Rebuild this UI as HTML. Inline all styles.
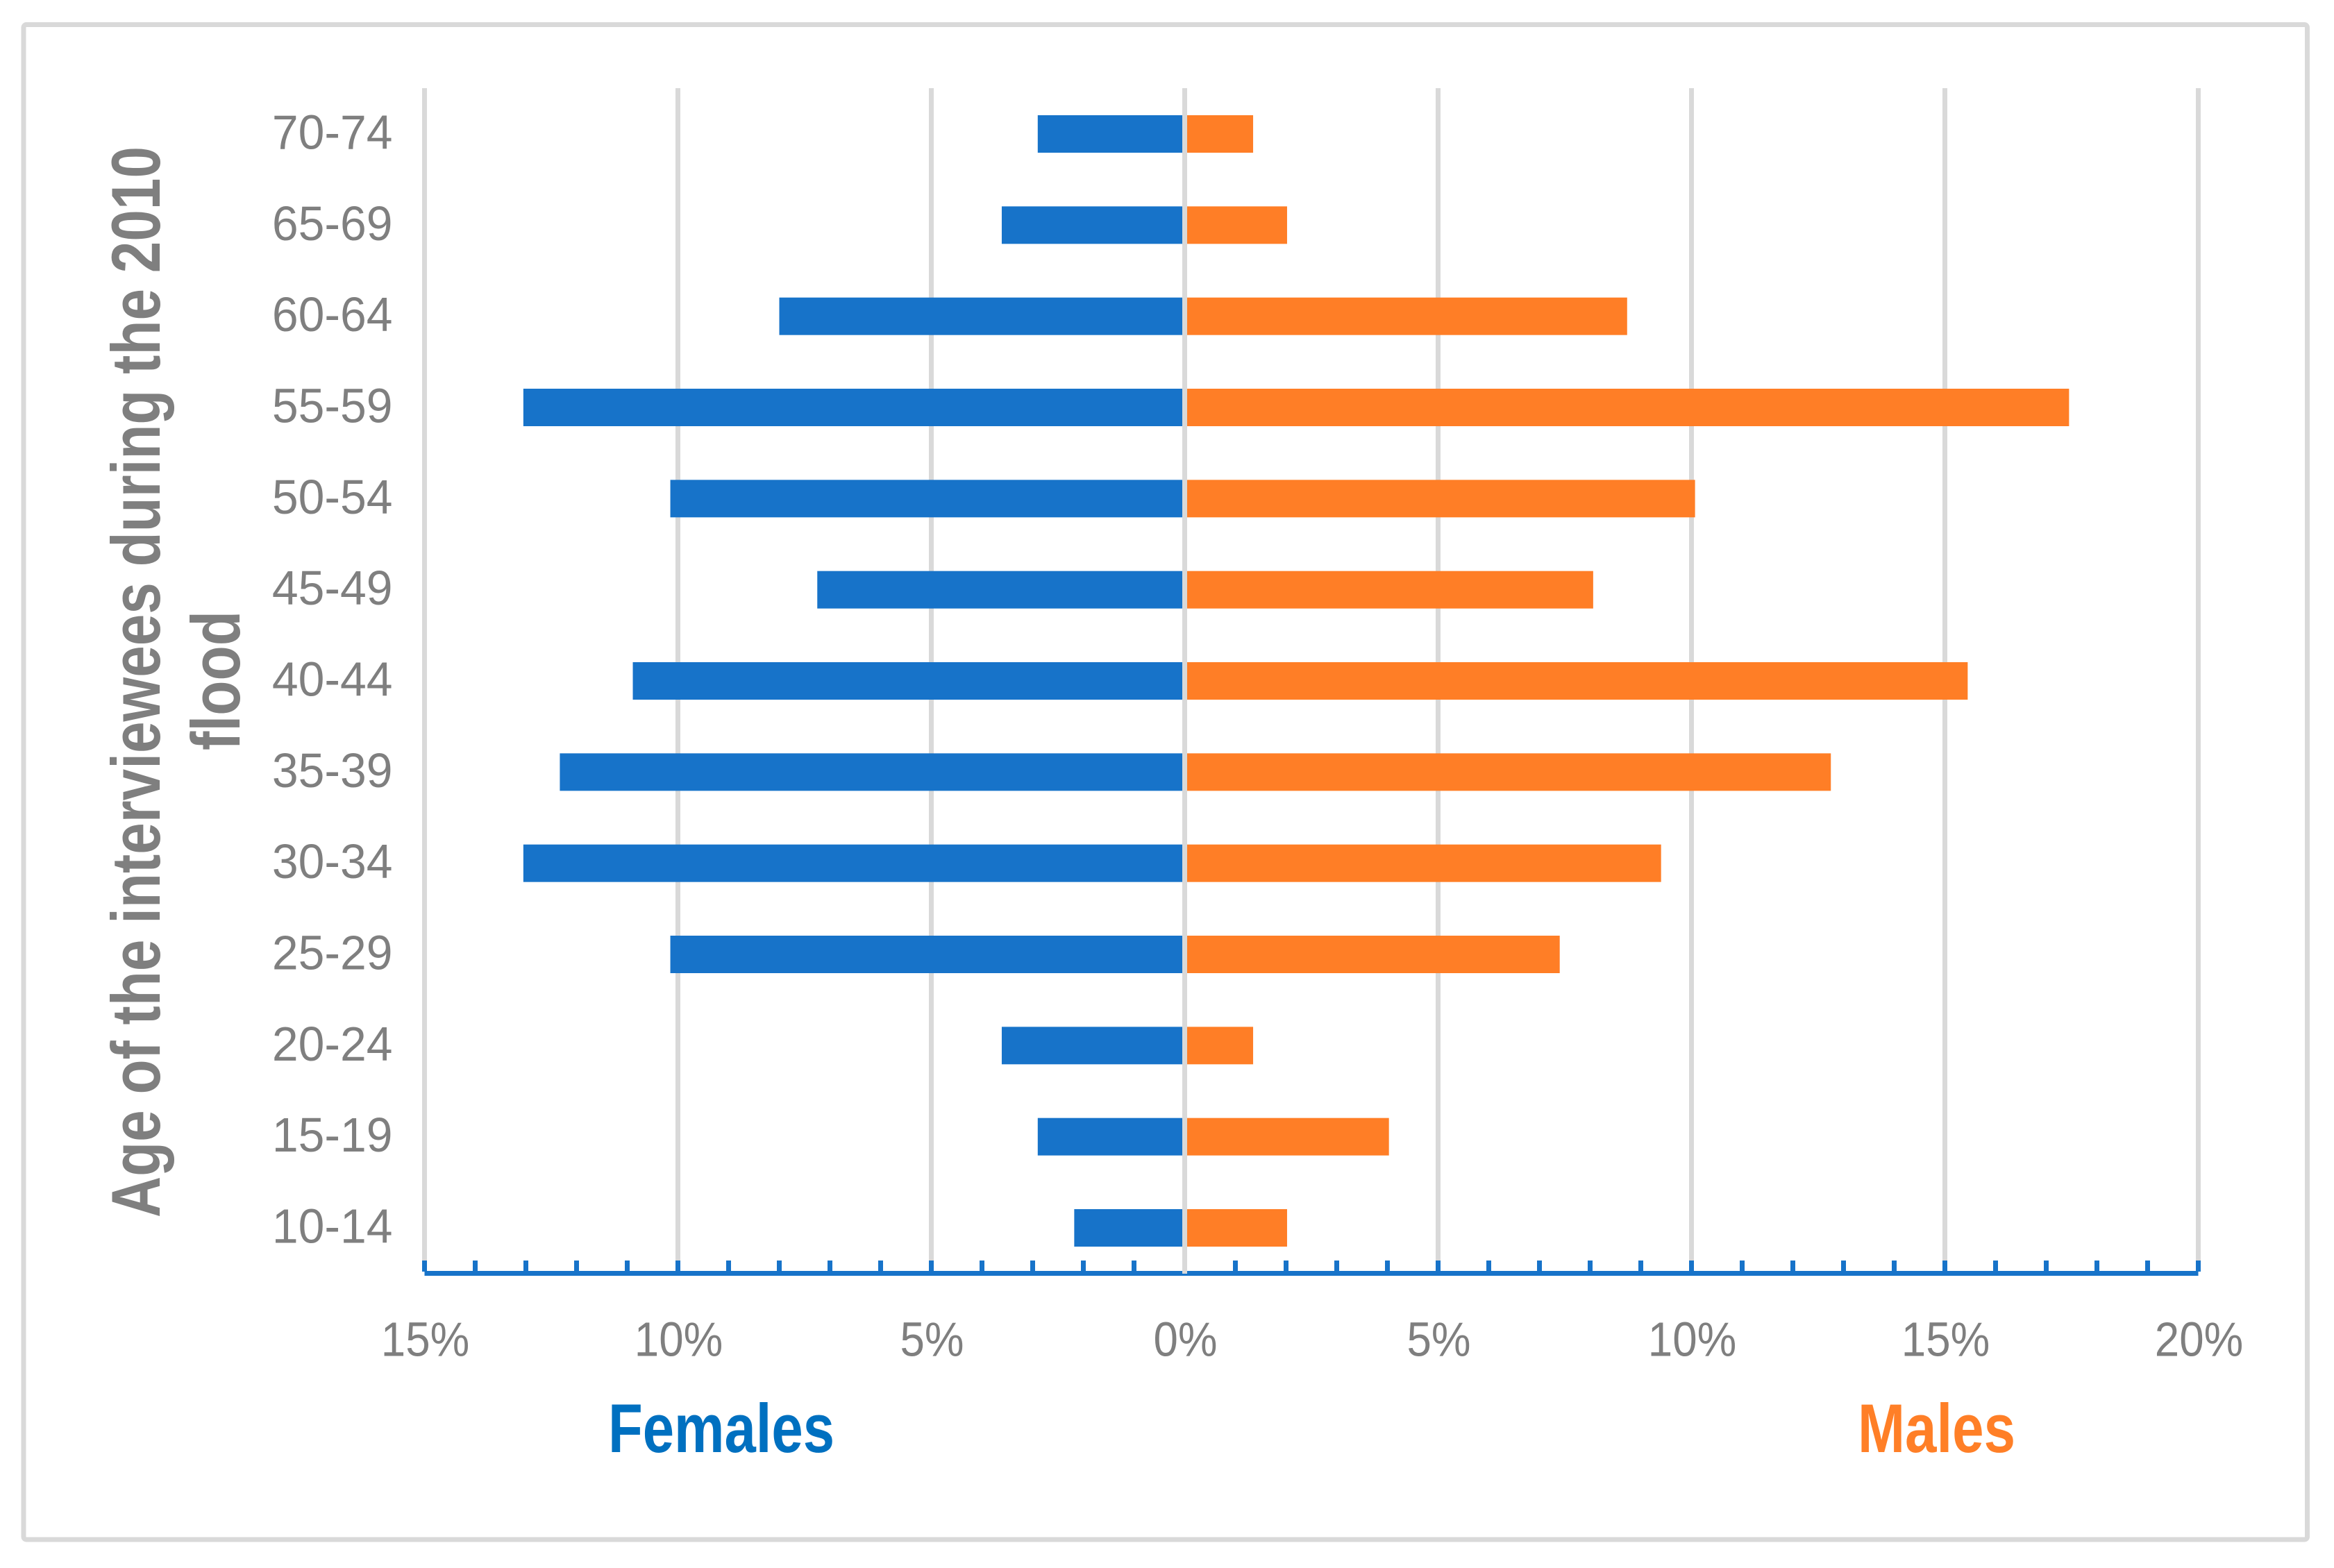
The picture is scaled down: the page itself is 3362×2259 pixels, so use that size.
<!DOCTYPE html>
<html lang="en">
<head>
<meta charset="utf-8">
<title>Age of the interviewees during the 2010 flood</title>
<style>
  html, body { margin: 0; padding: 0; background: #fff; }
  svg { display: block; }
  text { font-family: "Liberation Sans", Arial, sans-serif; }
</style>
</head>
<body>
<svg id="chart" xmlns="http://www.w3.org/2000/svg" width="3362" height="2259" viewBox="0 0 3362 2259">
  <rect x="0" y="0" width="3362" height="2259" fill="#ffffff"/>
  <rect x="34" y="35.5" width="3289.5" height="2182.5" rx="4" fill="#ffffff" stroke="#d9d9d9" stroke-width="7"/>
  <g id="grid"></g>
  <g id="females"></g>
  <g id="males"></g>
  <g id="axis"></g>
  <g id="xlabels"></g>
  <g id="ylabels"></g>
  <text transform="translate(230,1754) rotate(-90)" font-size="99" font-weight="bold" fill="#7f7f7f" textLength="1543" lengthAdjust="spacingAndGlyphs">Age of the interviewees during the 2010</text>
  <text transform="translate(345,1081) rotate(-90)" font-size="99" font-weight="bold" fill="#7f7f7f" textLength="201" lengthAdjust="spacingAndGlyphs">flood</text>
  <text x="876" y="2092" font-size="99" font-weight="bold" fill="#0070c0" textLength="326" lengthAdjust="spacingAndGlyphs">Females</text>
  <text x="2676" y="2092" font-size="99" font-weight="bold" fill="#ff7f27" textLength="227" lengthAdjust="spacingAndGlyphs">Males</text>
</svg>
<script>
const ageGroups = ["70-74","65-69","60-64","55-59","50-54","45-49","40-44","35-39","30-34","25-29","20-24","15-19","10-14"];
const femaleValues = [2.9,3.61,8.0,13.05,10.15,7.25,10.89,12.33,13.05,10.15,3.61,2.9,2.18];
const maleValues = [1.35,2.02,8.73,17.45,10.07,8.06,15.45,12.75,9.4,7.4,1.35,4.03,2.02];
const xTicks = [-15,-10,-5,0,5,10,15,20];
const xTickLabels = ["15%","10%","5%","0%","5%","10%","15%","20%"];

const NS = "http://www.w3.org/2000/svg";
const plotLeft = 611.5, plotRight = 3166.5, plotTop = 127, plotBottom = 1834;
const xMin = xTicks[0], xMax = xTicks[xTicks.length - 1];
function xScale(v) { return plotLeft + (v - xMin) / (xMax - xMin) * (plotRight - plotLeft); }
const firstRow = 193, lastRow = 1769;
function yScale(i) { return firstRow + i * (lastRow - firstRow) / (ageGroups.length - 1); }
const barH = 54, gridW = 7;

function make(tag, attrs, parent) {
  const el = document.createElementNS(NS, tag);
  for (const k in attrs) el.setAttribute(k, attrs[k]);
  parent.appendChild(el);
  return el;
}

const grid = document.getElementById("grid");
const females = document.getElementById("females");
const males = document.getElementById("males");
const axis = document.getElementById("axis");
const xlabels = document.getElementById("xlabels");
const ylabels = document.getElementById("ylabels");

// gridlines (except the zero line, drawn last)
xTicks.forEach(function (t) {
  if (t === 0) return;
  const g = make("rect", { x: xScale(t) - gridW / 2, y: plotTop, width: gridW, height: 1700, fill: "#d9d9d9" }, grid);
  
  
});

// bars
ageGroups.forEach(function (age, i) {
  const cy = yScale(i);
  const f = make("rect", { x: xScale(-femaleValues[i]), y: cy - barH / 2, width: xScale(0) - xScale(-femaleValues[i]), height: barH, fill: "#1773c9" }, females);
  
  
  const m = make("rect", { x: xScale(0), y: cy - barH / 2, width: xScale(maleValues[i]) - xScale(0), height: barH, fill: "#ff7e26" }, males);
  
  
  const lab = make("text", { transform: "translate(565.5," + (cy + 21.5) + ") scale(0.97,1)", "text-anchor": "end", "font-size": 70, fill: "#7f7f7f" }, ylabels);
  lab.textContent = age;
  
  
});

// axis line and minor ticks
const axisLine = make("rect", { x: plotLeft, y: 1831, width: plotRight - plotLeft, height: 7, fill: "#1773c9" }, axis);


for (let v = xMin; v <= xMax; v++) {
  if (v === 0) continue;
  const tk = make("rect", { x: xScale(v) - gridW / 2, y: 1816, width: gridW, height: 16, fill: "#1773c9" }, axis);
  
  
}

// zero line on top
const zero = make("rect", { x: xScale(0) - gridW / 2, y: plotTop, width: gridW, height: 1708, fill: "#d9d9d9" }, axis);



// x tick labels
xTicks.forEach(function (t, i) {
  const lab = make("text", { transform: "translate(" + (xScale(t) + 1) + ",1953.5) scale(0.91,1)", "text-anchor": "middle", "font-size": 70, fill: "#7f7f7f" }, xlabels);
  lab.textContent = xTickLabels[i];
  
  
});
</script>
</body>
</html>
